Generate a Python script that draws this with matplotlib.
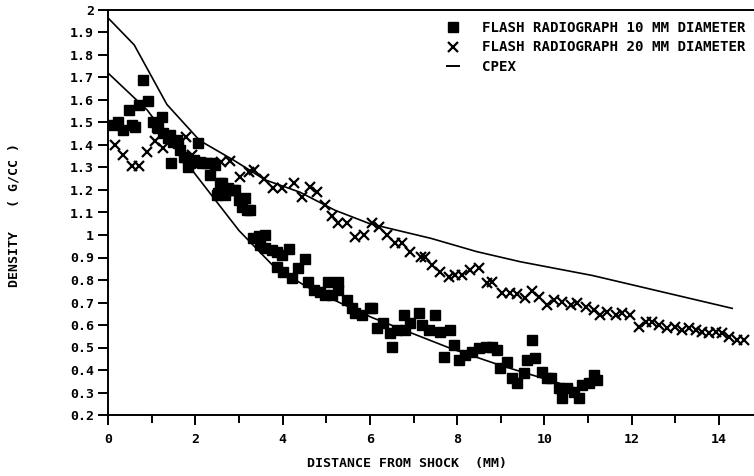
import matplotlib
matplotlib.use("Agg")
import matplotlib.pyplot as plt
from matplotlib.lines import Line2D
from matplotlib.ticker import MultipleLocator, FuncFormatter

# Flash radiograph 10 mm diameter (filled squares)
sq_x = [0.12, 0.24, 0.35, 0.47, 0.54, 0.62, 0.72, 0.81, 0.91, 1.04, 1.12, 1.15, 1.23, 1.27,
        1.38, 1.42, 1.44, 1.50, 1.58, 1.61, 1.65, 1.73, 1.77, 1.84, 1.88, 1.96, 2.07, 2.11,
        2.15, 2.26, 2.34, 2.38, 2.45, 2.49, 2.53, 2.57, 2.61, 2.68, 2.72, 2.76, 2.87, 2.91,
        2.99, 3.07, 3.14, 3.18, 3.26, 3.33, 3.45, 3.49, 3.60, 3.60, 3.75, 3.87, 3.87, 3.98,
        4.02, 4.14, 4.21, 4.36, 4.52, 4.59, 4.71, 4.86, 4.98, 5.05, 5.13, 5.28, 5.28, 5.47,
        5.59, 5.67, 5.82, 6.01, 6.05, 6.16, 6.31, 6.47, 6.51, 6.62, 6.77, 6.81, 6.93, 7.12,
        7.19, 7.35, 7.50, 7.61, 7.69, 7.84, 7.92, 8.04, 8.19, 8.34, 8.49, 8.65, 8.80, 8.91,
        8.99, 9.14, 9.26, 9.37, 9.53, 9.60, 9.72, 9.79, 9.95, 10.06, 10.14, 10.33, 10.41,
        10.52, 10.67, 10.79, 10.86, 11.02, 11.13, 11.21]
sq_y = [1.49, 1.504, 1.467, 1.556, 1.49, 1.48, 1.578, 1.689, 1.597, 1.504, 1.48, 1.474, 1.526, 1.452,
        1.43, 1.444, 1.319, 1.415, 1.422, 1.407, 1.378, 1.348, 1.348, 1.304, 1.319, 1.333, 1.407, 1.326,
        1.319, 1.319, 1.267, 1.319, 1.311, 1.178, 1.185, 1.23, 1.23, 1.178, 1.20, 1.207, 1.20, 1.20,
        1.156, 1.126, 1.163, 1.111, 1.111, 0.985, 0.996, 0.956, 1.0, 0.941, 0.933, 0.926, 0.859, 0.911,
        0.837, 0.936, 0.807, 0.852, 0.892, 0.793, 0.756, 0.748, 0.733, 0.793, 0.733, 0.793, 0.756, 0.711,
        0.674, 0.652, 0.644, 0.674, 0.674, 0.585, 0.607, 0.563, 0.504, 0.578, 0.644, 0.578, 0.607, 0.652,
        0.60, 0.578, 0.644, 0.571, 0.459, 0.578, 0.511, 0.444, 0.467, 0.481, 0.496, 0.504, 0.504, 0.489,
        0.407, 0.437, 0.363, 0.341, 0.385, 0.444, 0.533, 0.452, 0.393, 0.363, 0.363, 0.319, 0.274,
        0.319, 0.304, 0.274, 0.333, 0.341, 0.378, 0.356]

# Flash radiograph 20 mm diameter (crosses)
cx_x = [0.16, 0.35, 0.54, 0.72, 0.89, 1.08, 1.25, 1.78, 1.92, 2.60, 2.80, 3.03, 3.22, 3.35,
        3.58, 3.77, 3.98, 4.25, 4.44, 4.63, 4.79, 4.98, 5.13, 5.28, 5.47, 5.67, 5.86, 6.05,
        6.20, 6.39, 6.58, 6.74, 6.93, 7.16, 7.27, 7.42, 7.61, 7.81, 7.96, 8.11, 8.30, 8.49,
        8.69, 8.80, 9.03, 9.22, 9.37, 9.56, 9.72, 9.87, 10.06, 10.21, 10.41, 10.60, 10.75,
        10.94, 11.13, 11.28, 11.44, 11.63, 11.78, 11.97, 12.16, 12.32, 12.47, 12.62, 12.81,
        13.00, 13.16, 13.31, 13.46, 13.62, 13.77, 13.92, 14.07, 14.23, 14.42, 14.57]
cx_y = [1.40, 1.356, 1.307, 1.307, 1.37, 1.42, 1.387, 1.437, 1.356, 1.326, 1.33, 1.26, 1.28, 1.29,
        1.248, 1.207, 1.207, 1.23, 1.17, 1.215, 1.193, 1.133, 1.084, 1.052, 1.052, 0.993, 1.0, 1.052,
        1.037, 1.0, 0.963, 0.963, 0.926, 0.904, 0.904, 0.867, 0.837, 0.815, 0.822, 0.822, 0.844, 0.852,
        0.785, 0.793, 0.741, 0.741, 0.738, 0.719, 0.752, 0.726, 0.689, 0.711, 0.704, 0.689, 0.696,
        0.681, 0.667, 0.644, 0.659, 0.644, 0.652, 0.644, 0.593, 0.615, 0.615, 0.60, 0.585,
        0.593, 0.578, 0.585, 0.578, 0.571, 0.563, 0.571, 0.563, 0.548, 0.533, 0.533]

# CPEX curves
cpex_upper_x = [0, 0.6, 1.35, 2.1, 2.9, 3.6, 4.4, 5.2, 6.0, 7.4, 8.45, 9.45, 11.1, 14.3]
cpex_upper_y = [1.965, 1.845, 1.58, 1.42, 1.33, 1.245, 1.19, 1.11, 1.05, 0.985, 0.926, 0.881, 0.82, 0.674]
cpex_lower_x = [0, 0.9, 2.0, 3.0, 3.8, 4.55, 5.3, 6.05, 7.85, 9.0, 10.7]
cpex_lower_y = [1.72, 1.555, 1.27, 1.02, 0.86, 0.77, 0.70, 0.633, 0.496, 0.42, 0.32]

legend_labels = ["FLASH RADIOGRAPH 10 MM DIAMETER", "FLASH RADIOGRAPH 20 MM DIAMETER", "CPEX"]

plt.rcParams['font.family'] = ['DejaVu Sans Mono']
plt.rcParams['font.weight'] = 'bold'

W, H = 754, 476
fig = plt.figure(figsize=(W / 100, H / 100), dpi=100)
ax = fig.add_axes([108 / W, 1 - 415 / H, (W - 108) / W, (415 - 10) / H])

ax.plot(cpex_upper_x, cpex_upper_y, color='black', lw=1.2)
ax.plot(cpex_lower_x, cpex_lower_y, color='black', lw=1.2)
ax.plot(sq_x, sq_y, linestyle='none', marker='s', ms=6.8, color='black')
ax.plot(cx_x, cx_y, linestyle='none', marker='x', ms=6.5, mew=1.6, color='black')

ax.set_xlim(0, 14.8)
ax.set_ylim(0.2, 2.0)
ax.xaxis.set_major_locator(MultipleLocator(2))
ax.xaxis.set_minor_locator(MultipleLocator(1))
ax.yaxis.set_major_locator(MultipleLocator(0.1))
ax.yaxis.set_major_formatter(FuncFormatter(lambda v, p: f"{round(v, 1):g}"))
ax.tick_params(axis='both', which='both', direction='out', width=1.4, colors='black', labelsize=9.5)
ax.tick_params(axis='y', length=7, pad=3)
ax.tick_params(axis='x', which='major', length=7, pad=6)
ax.tick_params(axis='x', which='minor', length=6)
for lab in ax.get_xticklabels() + ax.get_yticklabels():
    lab.set_fontweight('bold')

ax.spines['right'].set_visible(False)
for s in ['left', 'bottom', 'top']:
    ax.spines[s].set_linewidth(1.4)

handles = [
    Line2D([], [], linestyle='none', marker='s', ms=6.8, color='black'),
    Line2D([], [], linestyle='none', marker='x', ms=6.5, mew=1.6, color='black'),
    Line2D([], [], linestyle='-', lw=1.4, color='black'),
]
ax.legend(handles, legend_labels, loc='upper right', bbox_to_anchor=(1.0, 0.995),
          frameon=False, handlelength=0.9, handletextpad=1.6, labelspacing=0.42,
          prop={'family': 'DejaVu Sans Mono', 'weight': 'bold', 'size': 10.2}, borderaxespad=0.2)

fig.text(407 / W, 1 - 463 / H, "DISTANCE FROM SHOCK  (MM)", ha='center', va='center',
         fontsize=9.5, fontweight='bold')
fig.text(14 / W, 1 - 215 / H, "DENSITY   ( G/CC )", ha='center', va='center', rotation=90,
         fontsize=9.5, fontweight='bold')

fig.savefig("out.png", dpi=100)
